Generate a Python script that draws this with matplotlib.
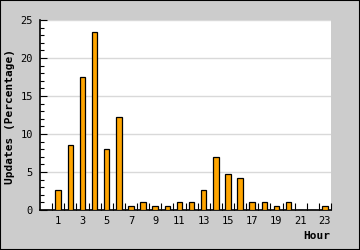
"""Hourly update share, bar chart."""

import matplotlib
matplotlib.use("Agg")
import matplotlib.pyplot as plt
from matplotlib.patches import Rectangle
from matplotlib.ticker import MultipleLocator

hours = list(range(24))
updates_pct = [0, 2.6, 8.5, 17.5, 23.4, 8.0, 12.2, 0.5, 1.0, 0.5, 0.5, 1.0,
               1.0, 2.6, 7.0, 4.7, 4.2, 1.0, 1.0, 0.5, 1.0, 0, 0, 0.5]
tick_hours = [1, 3, 5, 7, 9, 11, 13, 15, 17, 19, 21, 23]

plt.rcParams["font.family"] = ["DejaVu Sans Mono"]

fig = plt.figure(figsize=(3.6, 2.5), dpi=100, facecolor="#cccccc")
fig.patches.append(Rectangle((0, 0), 1, 1, transform=fig.transFigure,
                             fill=False, edgecolor="black", linewidth=1.5))

# plot box: x 40..331, y 20..210 in pixels
ax = fig.add_axes([40 / 360, 40 / 250, 291 / 360, 190 / 250])
ax.set_facecolor("white")

ax.bar(hours, updates_pct, width=0.45, color="#ffa500",
       edgecolor="black", linewidth=0.9, zorder=3)

ax.set_xlim(-0.5, 23.5)
ax.set_ylim(0, 25)
ax.yaxis.set_major_locator(MultipleLocator(5))
ax.yaxis.set_minor_locator(MultipleLocator(1))
ax.set_xticks(tick_hours)
ax.set_xticks([h + 0.5 for h in range(24)], minor=True)
ax.grid(axis="y", color="#d9d9d9", linewidth=1, zorder=0)

for side in ("top", "right"):
    ax.spines[side].set_visible(False)
for side in ("left", "bottom"):
    ax.spines[side].set_linewidth(1.2)

ax.tick_params(axis="y", which="major", direction="in", length=5, width=0.8,
               labelsize=7.5, pad=5)
ax.tick_params(axis="y", which="minor", direction="in", length=3, width=0.8)
ax.tick_params(axis="x", which="major", length=0, labelsize=7.5, pad=4.5)
ax.tick_params(axis="x", which="minor", direction="in", length=5, width=0.8)

fig.text(10 / 360, 1 - 116 / 250, "Updates (Percentage)", rotation=90,
         ha="center", va="center", fontsize=8, fontweight="bold")
fig.text(330 / 360, 1 - 236 / 250, "Hour", ha="right", va="center",
         fontsize=8, fontweight="bold")

fig.savefig("out.png", dpi=100, facecolor=fig.get_facecolor())
